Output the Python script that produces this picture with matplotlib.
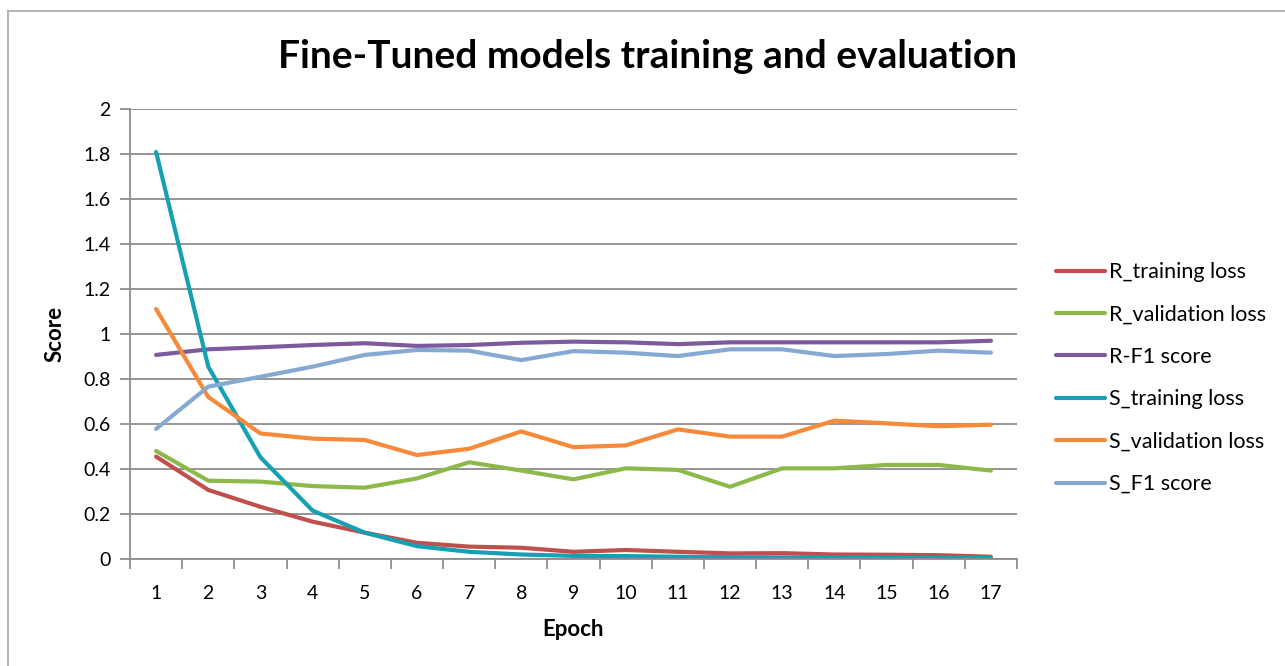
import matplotlib.pyplot as plt
from matplotlib.lines import Line2D

plt.rcParams['font.family'] = ['Lato', 'DejaVu Sans']

epochs = list(range(1, 18))
r_train_loss = [0.455, 0.307, 0.232, 0.166, 0.117, 0.072, 0.055, 0.05, 0.032, 0.04,
                0.032, 0.025, 0.026, 0.02, 0.019, 0.017, 0.01]
r_val_loss = [0.48, 0.348, 0.344, 0.324, 0.317, 0.358, 0.43, 0.393, 0.354, 0.403,
              0.396, 0.321, 0.403, 0.403, 0.418, 0.418, 0.393]
r_f1 = [0.907, 0.932, 0.941, 0.951, 0.959, 0.947, 0.951, 0.961, 0.966, 0.963,
        0.955, 0.963, 0.963, 0.963, 0.963, 0.963, 0.97]
s_train_loss = [1.809, 0.855, 0.452, 0.215, 0.117, 0.057, 0.032, 0.02, 0.014, 0.013,
                0.01, 0.008, 0.007, 0.006, 0.006, 0.005, 0.004]
s_val_loss = [1.111, 0.72, 0.558, 0.535, 0.529, 0.462, 0.49, 0.567, 0.497, 0.505,
              0.576, 0.544, 0.544, 0.615, 0.603, 0.59, 0.597]
s_f1 = [0.578, 0.766, 0.81, 0.855, 0.907, 0.929, 0.926, 0.884, 0.924, 0.917,
        0.902, 0.932, 0.932, 0.902, 0.911, 0.926, 0.917]

series = [
    ("R_training loss", r_train_loss, "#C0504D"),
    ("R_validation loss", r_val_loss, "#8DB94A"),
    ("R-F1 score", r_f1, "#7D5A9E"),
    ("S_training loss", s_train_loss, "#16A0B4"),
    ("S_validation loss", s_val_loss, "#F6893A"),
    ("S_F1 score", s_f1, "#85A9D2"),
]

fig = plt.figure(figsize=(12.85, 6.66), dpi=100)
ax = fig.add_axes([130 / 1285, 107 / 666, 887 / 1285, 450 / 666])

for name, vals, col in series:
    ax.plot(epochs, vals, color=col, lw=3, label=name, solid_capstyle='round',
            solid_joinstyle='round')

grid_col = "#8C8C8C"
ax.set_xlim(0.5, 17.5)
ax.set_ylim(0, 2)
ax.set_yticks([i / 5 for i in range(11)])
ax.set_yticklabels(["0", "0.2", "0.4", "0.6", "0.8", "1", "1.2", "1.4", "1.6", "1.8", "2"])
ax.yaxis.grid(True, color=grid_col, lw=1.3)
ax.set_axisbelow(True)

ax.set_xticks([k + 0.5 for k in range(0, 18)])
ax.set_xticklabels([])
ax.set_xticks(epochs, minor=True)
ax.set_xticklabels([str(e) for e in epochs], minor=True)
ax.tick_params(axis='x', which='minor', length=0, pad=19, labelsize=14)
ax.tick_params(axis='x', which='major', length=7, width=1.3, color=grid_col)
ax.tick_params(axis='y', length=7, width=1.3, color=grid_col, labelsize=14, pad=7)

for s in ['top', 'right']:
    ax.spines[s].set_visible(False)
for s in ['left', 'bottom']:
    ax.spines[s].set_color(grid_col)
    ax.spines[s].set_linewidth(1.3)

ax.set_xlabel("Epoch", fontsize=16, fontweight='bold', labelpad=12)
ax.set_ylabel("Score", fontsize=16, fontweight='bold', labelpad=13)
fig.text(647 / 1285, 1 - 56 / 666, "Fine-Tuned models training and evaluation",
         fontsize=28, fontweight='bold', ha='center', va='center')

leg = ax.legend(loc='center left', bbox_to_anchor=(1.022, 0.402), frameon=False,
                fontsize=15.5, handlelength=2.3, handletextpad=0.15, labelspacing=1.04)

# outer chart frame (left and top edge visible)
fig.add_artist(Line2D([8 / 1285, 8 / 1285], [0, 1 - 11 / 666], color="#A6A6A6", lw=1.2))
fig.add_artist(Line2D([8 / 1285, 1], [1 - 11 / 666, 1 - 11 / 666], color="#A6A6A6", lw=1.2))

fig.savefig("out.png", dpi=100)
